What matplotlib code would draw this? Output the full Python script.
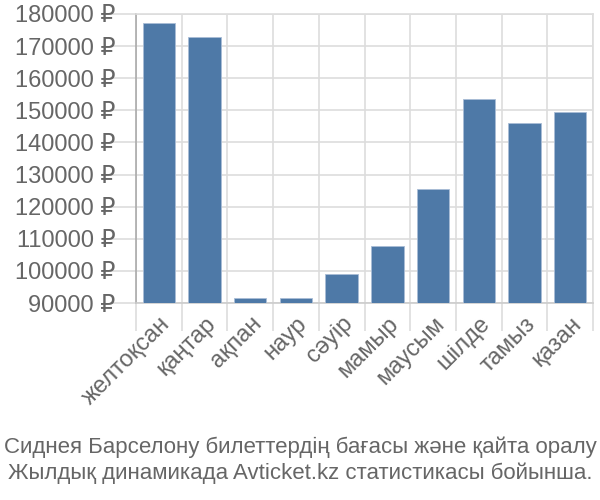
import matplotlib
matplotlib.use("Agg")
import matplotlib.pyplot as plt
import numpy as np

plt.rcParams['font.family'] = ['Liberation Sans', 'DejaVu Sans']

# Monthly ticket prices (rubles)
months = ['желтоқсан', 'қаңтар', 'ақпан', 'наур', 'сәуір', 'мамыр',
          'маусым', 'шілде', 'тамыз', 'қазан']
prices = [177100, 172800, 91600, 91600, 99100, 107700,
          125400, 153500, 146100, 149600]
yticks = [90000, 100000, 110000, 120000, 130000, 140000,
          150000, 160000, 170000, 180000]
caption = ('Сиднея Барселону билеттердің бағасы және қайта оралу\n'
           'Жылдық динамикада Avticket.kz статистикасы бойынша.')

text_color = '#666666'
grid_color = '#dddddd'

fig = plt.figure(figsize=(6, 5), dpi=100)
ax = fig.add_axes([136 / 600, 1 - 303 / 500, 457 / 600, 289 / 500])

x = np.arange(len(months))
ax.bar(x, prices, width=0.71, bottom=0, color='#4e79a7',
       edgecolor='#a9bdd6', linewidth=0.6, zorder=3)

ax.set_xlim(-0.5, len(months) - 0.5)
ax.set_ylim(yticks[0], yticks[-1])

# y axis: labels with ruble sign, tick lines extended like the grid
ax.set_yticks(yticks)
ax.set_yticklabels([f'{v} ₽' for v in yticks])
ax.tick_params(axis='y', length=19, width=1.2, color=grid_color,
               labelcolor=text_color, labelsize=17, pad=-4)

# x axis: labels at category centers, ticks on category boundaries
ax.set_xticks(x)
ax.set_xticklabels(months, rotation=45, ha='right', va='top',
                   rotation_mode='anchor')
ax.set_xticks(np.arange(len(months) + 1) - 0.5, minor=True)
ax.tick_params(axis='x', which='major', length=0, labelcolor=text_color,
               labelsize=17, pad=7)
ax.tick_params(axis='x', which='minor', length=20, width=1.2,
               color=grid_color)

ax.grid(True, which='major', axis='y', color=grid_color, linewidth=1.2, zorder=0)
ax.grid(True, which='minor', axis='x', color=grid_color, linewidth=1.2, zorder=0)

for side in ['top', 'right']:
    ax.spines[side].set_color(grid_color)
    ax.spines[side].set_linewidth(1.2)
ax.spines['left'].set_color('#aaaaaa')
ax.spines['bottom'].set_color('#cccccc')
ax.spines['left'].set_linewidth(1.2)
ax.spines['bottom'].set_linewidth(1.2)

fig.text(0.5, 1 - 460 / 500, caption, ha='center', va='center',
         fontsize=16, color=text_color, linespacing=1.3)

fig.savefig('out.png', dpi=100)
